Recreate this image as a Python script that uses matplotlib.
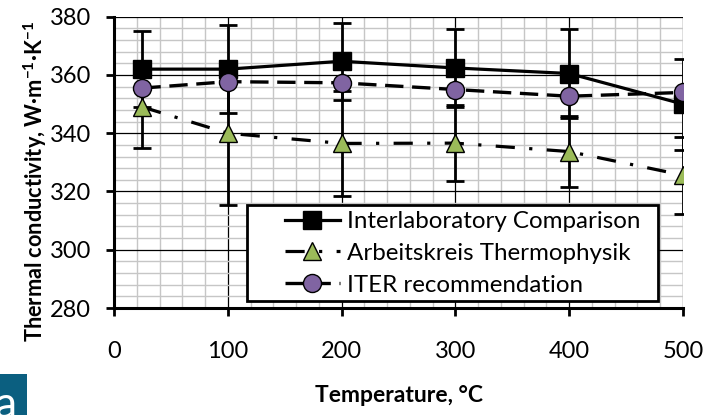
import matplotlib
matplotlib.use("Agg")
import matplotlib.pyplot as plt
from matplotlib.patches import Rectangle
import numpy as np

plt.rcParams['font.family'] = ['Lato', 'DejaVu Sans']
plt.rcParams['mathtext.fontset'] = 'custom'
plt.rcParams['mathtext.rm'] = 'Lato'
plt.rcParams['mathtext.bf'] = 'Lato:bold'
plt.rcParams['mathtext.it'] = 'Lato:italic'

# ---- data ----
temps = [25, 100, 200, 300, 400, 500]
ilc_values = [362, 362, 364.7, 362.4, 360.5, 350]
ilc_errors = [13, 15, 13.3, 13.3, 15.2, 15.6]
ak_values = [349, 340, 336.5, 336.6, 333.7, 325.6]
ak_errors = [14, 24.7, 18.1, 13, 12.2, 13.2]
iter_values = [355.5, 357.7, 357.3, 355, 352.7, 354]

series_labels = ["Interlaboratory Comparison", "Arbeitskreis Thermophysik", "ITER recommendation"]
x_ticks = [0, 100, 200, 300, 400, 500]
y_ticks = [280, 300, 320, 340, 360, 380]
x_label = "Temperature, °C"
y_label = r"Thermal conductivity, W·m$^{\mathbf{-1}}$·K$^{\mathbf{-1}}$"

W, H = 705, 415
fig = plt.figure(figsize=(W / 100, H / 100), dpi=100)
ax = fig.add_axes([114 / W, 1 - 308 / H, (683 - 114) / W, (308 - 16.7) / H])

ax.set_xlim(0, 500)
ax.set_ylim(280, 380)
ax.set_xticks(x_ticks)
ax.set_yticks(y_ticks)
ax.set_xticks(np.arange(0, 501, 20), minor=True)
ax.set_yticks(np.arange(280, 381, 4), minor=True)
ax.set_axisbelow(True)
ax.grid(which='minor', color='#C6C6C6', lw=1.0, zorder=0)
ax.grid(which='major', color='black', lw=0.9, zorder=0.5)
ax.tick_params(which='minor', length=0)
ax.tick_params(which='major', direction='out', length=5.5, width=2, color='black',
               labelsize=17)
ax.tick_params(axis='x', pad=18)
ax.tick_params(axis='y', pad=11)
for s in ['top', 'right']:
    ax.spines[s].set_visible(False)
for s in ['left', 'bottom']:
    ax.spines[s].set_linewidth(2.2)
    ax.spines[s].set_zorder(6)

err_kw = dict(fmt='none', ecolor='black', elinewidth=2, capsize=6.5, capthick=2, zorder=2)
ax.errorbar(temps, ilc_values, yerr=ilc_errors, **err_kw)
ax.errorbar(temps, ak_values, yerr=ak_errors, **err_kw)

l1, = ax.plot(temps, ilc_values, color='black', lw=2.3, marker='s', ms=13.5,
              mfc='black', mec='black', mew=1, zorder=3, label=series_labels[0])
l2, = ax.plot(temps, ak_values, color='black', lw=2.3, marker='^', ms=13,
              mfc='#9BBB59', mec='black', mew=1, zorder=3.1, label=series_labels[1],
              dashes=(6, 4.5, 1, 4.5))
l3, = ax.plot(temps, iter_values, color='black', lw=2.4, marker='o', ms=13,
              mfc='#8064A2', mec='black', mew=1, zorder=3.2, label=series_labels[2],
              dashes=(5.5, 2.6))

# legend box (Excel-style, wider than contents)
box = Rectangle((247 / W, 1 - 301 / H), (658 - 247) / W, (301 - 205) / H,
                transform=fig.transFigure, facecolor='white', edgecolor='black',
                lw=2, zorder=4.5, clip_on=False)
ax.add_patch(box)
leg = ax.legend(handles=[l1, l2, l3], loc='upper left',
                bbox_to_anchor=(285 / W, 1 - 211 / H), bbox_transform=fig.transFigure,
                frameon=False, fontsize=17.4, handlelength=2.27, handletextpad=0.28,
                labelspacing=0.45, borderpad=0, borderaxespad=0)
leg.set_zorder(5)

fig.text(35 / W, 1 - 181.5 / H, y_label, rotation=90, ha='center', va='center',
         fontsize=15.7, fontweight='bold')
fig.text(399 / W, 1 - 395 / H, x_label, ha='center', va='center',
         fontsize=16.5, fontweight='bold')

# corner panel tag
fig.patches.append(Rectangle((0, 0), 27 / W, 41 / H, transform=fig.transFigure,
                             facecolor='#0B5F80', edgecolor='none', zorder=1))
fig.text(6 / W, -3 / H, "a", color='white', fontsize=32, ha='center', va='baseline')

fig.savefig("out.png", dpi=100)
